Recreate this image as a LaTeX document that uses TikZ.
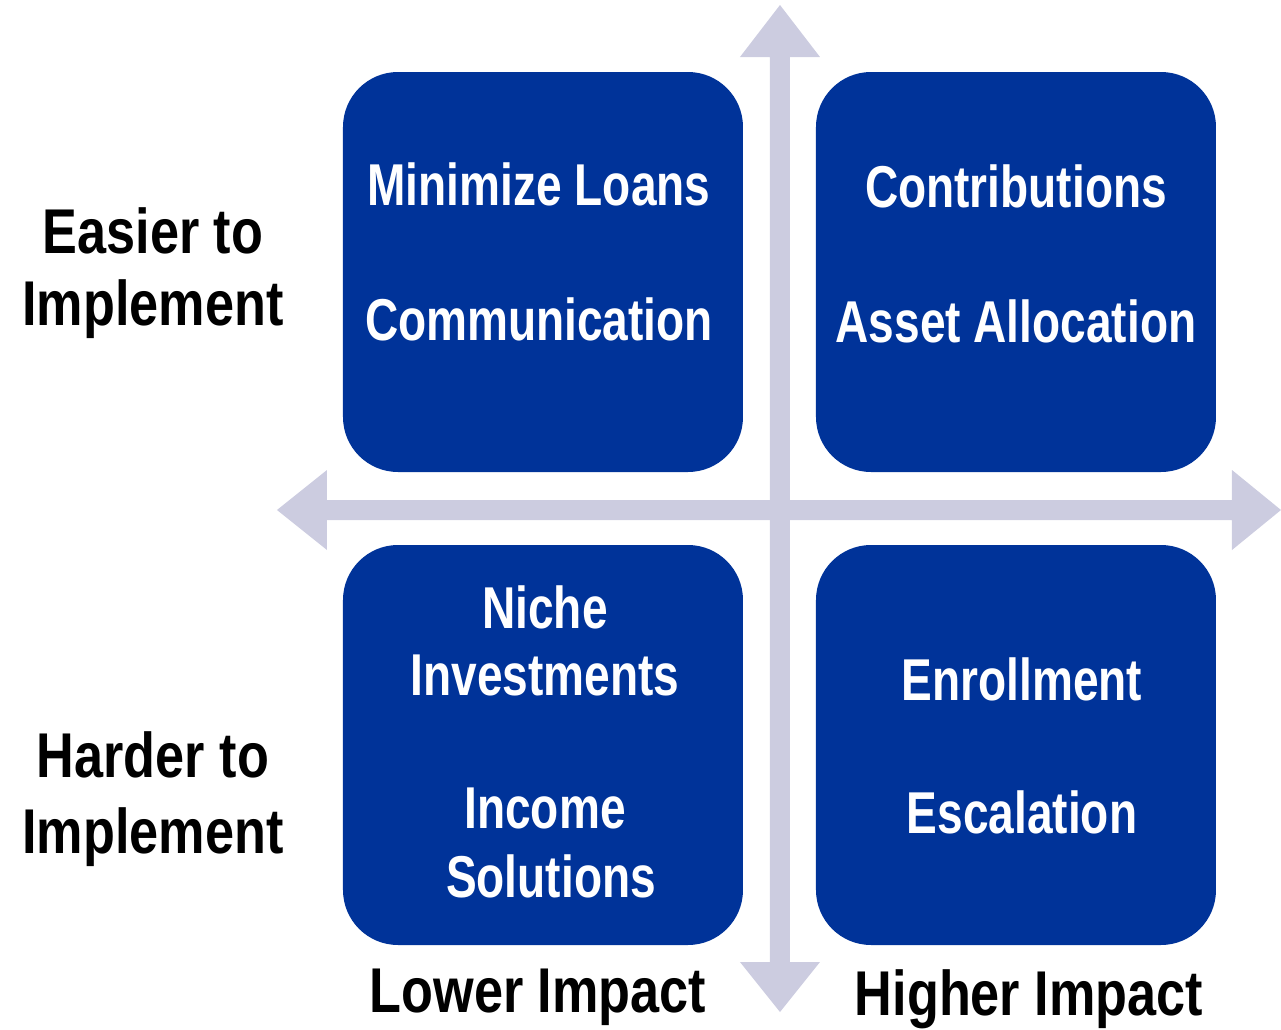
\documentclass[tikz,border=0pt]{standalone}
\usepackage{fontspec}
\setmainfont{Liberation Sans}[FakeStretch=0.78]
\newfontfamily\labelfont{Liberation Sans}[FakeStretch=0.825]
\definecolor{boxblue}{HTML}{003399}
\definecolor{axisgray}{HTML}{CCCCE0}
\usepackage{tikz}

\begin{document}
\begin{tikzpicture}[
    quadrant/.style={fill=boxblue, rounded corners=1.1cm, minimum width=8cm, minimum height=8cm},
    item/.style={text=white, font=\bfseries\fontsize{33.6}{40}\selectfont, anchor=base, inner sep=0pt},
    axislabel/.style={font=\labelfont\bfseries\fontsize{36}{42}\selectfont, anchor=base, inner sep=0pt}
]
  \useasboundingbox (-15.6,-10.4) rectangle (10.02,10.2);

  % Achsenkreuz
  \coordinate (top) at (0,10.1);
  \coordinate (bottom) at (0,-10.04);
  \coordinate (left) at (-10.06,0);
  \coordinate (right) at (10.02,0);
  \fill[axisgray] (top) -- (0.8,9.06) -- (0.2,9.06) -- (0.2,-9.04) -- (0.8,-9.04)
    -- (bottom) -- (-0.8,-9.04) -- (-0.2,-9.04) -- (-0.2,9.06) -- (-0.8,9.06) -- cycle;
  \fill[axisgray] (left) -- (-9.06,0.8) -- (-9.06,0.2) -- (9.04,0.2) -- (9.04,0.8)
    -- (right) -- (9.04,-0.8) -- (9.04,-0.2) -- (-9.06,-0.2) -- (-9.06,-0.8) -- cycle;

  % Quadranten
  \node[quadrant] (easylow) at (-4.74,4.76) {};
  \node[quadrant] (easyhigh) at (4.72,4.76) {};
  \node[quadrant] (hardlow) at (-4.74,-4.7) {};
  \node[quadrant] (hardhigh) at (4.72,-4.7) {};

  % Massnahmen in den Quadranten
  \node[item] (loans) at (-4.82,6.1) {Minimize Loans};
  \node[item] (comm) at (-4.82,3.4) {Communication};
  \node[item] (contrib) at (4.72,6.06) {Contributions};
  \node[item] (alloc) at (4.72,3.36) {Asset Allocation};
  \node[item] (niche) at (-4.7,-2.36) {Niche};
  \node[item] (invest) at (-4.7,-3.7) {Investments};
  \node[item] (income) at (-4.7,-6.36) {Income};
  \node[item] (solutions) at (-4.58,-7.74) {Solutions};
  \node[item] (enroll) at (4.84,-3.8) {Enrollment};
  \node[item] (escal) at (4.84,-6.46) {Escalation};

  % Achsenbeschriftung
  \node[axislabel] (easy1) at (-12.54,5.14) {Easier to};
  \node[axislabel] (easy2) at (-12.54,3.7) {Implement};
  \node[axislabel] (hard1) at (-12.54,-5.34) {Harder to};
  \node[axislabel] (hard2) at (-12.54,-6.86) {Implement};
  \node[axislabel] (lower) at (-4.84,-10.04) {Lower Impact};
  \node[axislabel] (higher) at (4.98,-10.1) {Higher Impact};

\end{tikzpicture}
\end{document}
